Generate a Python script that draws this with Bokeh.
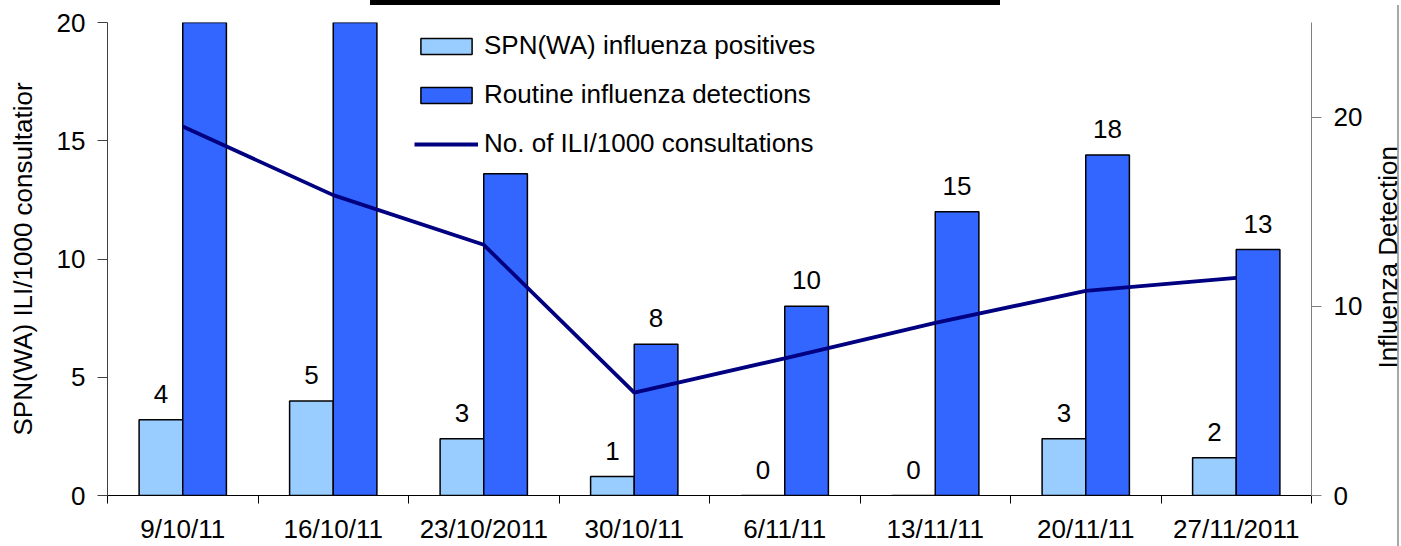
from bokeh.plotting import figure
from bokeh.models import (Range1d, LinearAxis, FixedTicker, Legend, LegendItem,
                          ColumnDataSource, Div)
from bokeh.layouts import column, row
from bokeh.core.properties import value
from bokeh.embed import file_html
from bokeh.resources import INLINE

dates = ["9/10/11", "16/10/11", "23/10/2011", "30/10/11", "6/11/11",
         "13/11/11", "20/11/11", "27/11/2011"]
spn_positives = [4, 5, 3, 1, 0, 0, 3, 2]
routine_detections = [27, 30, 17, 8, 10, 15, 18, 13]
ili_rate = [15.6, 12.7, 10.6, 4.35, 5.8, 7.3, 8.65, 9.2]
# value labels that are visible in the chart (first three are hidden: off the
# top of the axis or behind the legend)
routine_label_visible = [False, False, False, True, True, True, True, True]
left_title = "SPN(WA) ILI/1000 consultatior"
right_title = "Influenza Detection"

FONT = "Liberation Sans"
FS = "26px"
n = len(dates)
idx = list(range(n))
bar_w = 0.29

src = ColumnDataSource(dict(
    xc=[i + 0.5 for i in idx],
    xl=[i + 0.5 - bar_w / 2 for i in idx],
    xr=[i + 0.5 + bar_w / 2 for i in idx],
    spn=spn_positives,
    routine=routine_detections,
    ili=ili_rate,
))
lab_spn = ColumnDataSource(dict(
    x=[i + 0.5 - bar_w / 2 for i in idx],
    y=spn_positives,
    t=[str(v) for v in spn_positives],
))
vis = [i for i in idx if routine_label_visible[i]]
lab_rout = ColumnDataSource(dict(
    x=[i + 0.5 + bar_w / 2 for i in vis],
    y=[routine_detections[i] for i in vis],
    t=[str(routine_detections[i]) for i in vis],
))

p = figure(width=1376, height=541, output_backend="svg", toolbar_location=None,
           x_range=Range1d(0, n), y_range=Range1d(0, 20),
           min_border_left=107, min_border_right=65, min_border_top=17,
           min_border_bottom=49)
p.extra_y_ranges = {"right": Range1d(0, 25)}
p.outline_line_color = None
p.xgrid.visible = False
p.ygrid.visible = False
p.background_fill_color = "white"

# bars (right axis)
r_spn = p.vbar(x="xl", top="spn", width=bar_w, source=src, y_range_name="right",
               fill_color="#99CCFF", line_color="black", line_width=1.5)
r_rout = p.vbar(x="xr", top="routine", width=bar_w, source=src, y_range_name="right",
                fill_color="#3366FF", line_color="black", line_width=1.5)
# line (left axis)
r_ili = p.line(x="xc", y="ili", source=src, line_color="#000080", line_width=3.8)

# value labels
for s in (lab_spn, lab_rout):
    p.text(x="x", y="y", text="t", source=s, y_range_name="right",
           text_align="center", text_baseline="bottom", y_offset=-17,
           text_font=value(FONT), text_font_size=FS, text_color="black")

# x axis: labels at centres, ticks at boundaries
xa = p.xaxis[0]
xa.ticker = FixedTicker(ticks=[i + 0.5 for i in idx], minor_ticks=list(range(n + 1)))
xa.major_label_overrides = {i + 0.5: d for i, d in enumerate(dates)}
xa.major_tick_line_color = None
xa.major_tick_out = 8
xa.major_label_standoff = 10
xa.minor_tick_line_color = "black"
xa.minor_tick_out = 8
xa.minor_tick_in = 0
xa.axis_line_color = "black"
xa.major_label_text_font = FONT
xa.major_label_text_font_size = FS
xa.major_label_text_color = "black"

# left axis
ya = p.yaxis[0]
ya.ticker = FixedTicker(ticks=[0, 5, 10, 15, 20])
ya.axis_label = left_title
ya.axis_label_text_font = FONT
ya.axis_label_text_font_size = FS
ya.axis_label_text_font_style = "normal"
ya.axis_label_text_color = "black"
ya.axis_label_standoff = 16
ya.major_label_text_font = FONT
ya.major_label_text_font_size = FS
ya.major_label_text_color = "black"
ya.major_label_standoff = 12
ya.major_tick_out = 10
ya.major_tick_in = 0
ya.minor_tick_line_color = None
ya.axis_line_color = "#404040"
ya.major_tick_line_color = "#404040"

# right axis
ra = LinearAxis(y_range_name="right", ticker=FixedTicker(ticks=[0, 10, 20]))
ra.major_label_text_font = FONT
ra.major_label_text_font_size = FS
ra.major_label_text_color = "black"
ra.major_label_standoff = 12
ra.major_tick_out = 10
ra.major_tick_in = 0
ra.minor_tick_line_color = None
ra.axis_line_color = "#808080"
ra.major_tick_line_color = "#808080"
p.add_layout(ra, "right")

legend = Legend(items=[
    LegendItem(label="SPN(WA) influenza positives", renderers=[r_spn]),
    LegendItem(label="Routine influenza detections", renderers=[r_rout]),
    LegendItem(label="No. of ILI/1000 consultations", renderers=[r_ili]),
], location=(307, 336))
legend.label_text_font = FONT
legend.label_text_font_size = FS
legend.label_text_color = "black"
legend.glyph_width = 64
legend.glyph_height = 20
legend.label_height = 28
legend.spacing = 18
legend.padding = 5
legend.margin = 0
legend.label_standoff = 6
legend.border_line_color = None
legend.background_fill_color = "white"
legend.background_fill_alpha = 1.0
p.add_layout(legend, "center")

# right-hand axis title, reading bottom-to-top
rtitle = Div(
    text=('<div style="writing-mode: vertical-rl; transform: rotate(180deg); '
          'margin-top: 141px; font-family: \'Liberation Sans\'; font-size: 26px; '
          'line-height: 25px; color: black; white-space: nowrap;">'
          + right_title + '</div>'),
    width=23, height=541, margin=(0, 0, 0, 0),
    styles={"border-right": "2px solid #a8a8a8"})

bar = Div(text="", width=630, height=5, margin=(0, 0, 0, 370),
          styles={"background-color": "black"})

layout = column(bar, row(p, rtitle, spacing=0), spacing=0)
open("out.html", "w").write(file_html(layout, INLINE))
